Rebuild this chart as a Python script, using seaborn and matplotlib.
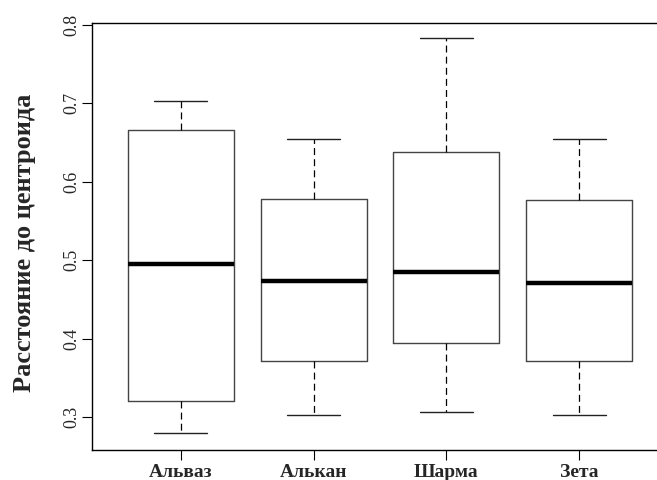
import matplotlib
matplotlib.use("Agg")
import matplotlib.pyplot as plt
import seaborn as sns
import pandas as pd

# Five-number summaries (min, Q1, median, Q3, max)
categories = ["Альваз", "Алькан", "Шарма", "Зета"]
alvaz = [0.279, 0.320, 0.495, 0.666, 0.703]
alkan = [0.302, 0.371, 0.473, 0.578, 0.654]
sharma = [0.306, 0.394, 0.485, 0.638, 0.783]
zeta = [0.302, 0.371, 0.471, 0.577, 0.655]
y_ticks = [0.3, 0.4, 0.5, 0.6, 0.7, 0.8]
y_label = "Расстояние до центроида"

sns.set_style("white")
plt.rcParams["font.family"] = ["Liberation Serif", "DejaVu Serif"]
plt.rcParams["lines.scale_dashes"] = False

rows = []
for cat, vals in zip(categories, [alvaz, alkan, sharma, zeta]):
    for v in vals:
        rows.append({"group": cat, "value": v})
df = pd.DataFrame(rows)

fig = plt.figure(figsize=(6.57, 4.8), dpi=100)
ax = fig.add_axes([92 / 657, 30.5 / 480, 576 / 657, 426.8 / 480])

sns.boxplot(
    data=df, x="group", y="value", order=categories, ax=ax,
    whis=(0, 100), width=0.8, fill=False, color="#444444",
    linewidth=1.0, showfliers=False,
    boxprops=dict(color="#444444", linewidth=1.0),
    medianprops=dict(color="black", linewidth=3.2),
    whiskerprops=dict(color="black", linewidth=0.9, linestyle=(0, (5, 3))),
    capprops=dict(color="#222222", linewidth=1.0),
)

ax.set_xlim(-0.67, 3.67)
ax.set_ylim(0.2585, 0.803)
ax.set_yticks(y_ticks)
ax.set_yticklabels([f"{t:.1f}" for t in y_ticks], fontsize=13,
                   rotation=90, va="center")
for lbl in ax.get_xticklabels():
    lbl.set_fontweight("bold")
    lbl.set_fontsize(14)
ax.set_xlabel("")
ax.set_ylabel(y_label, fontsize=19, fontweight="bold")
ax.yaxis.set_label_coords(-0.097, 0.484)

ax.tick_params(axis="both", which="major", direction="out", length=7.2,
               width=0.8, color="black", left=True, bottom=True)
ax.tick_params(axis="y", pad=1.5)
ax.tick_params(axis="x", pad=3)
for side in ["left", "bottom", "top", "right"]:
    ax.spines[side].set_visible(True)
    ax.spines[side].set_color("black")
    ax.spines[side].set_linewidth(1.0)

fig.savefig("out.png", dpi=100)
